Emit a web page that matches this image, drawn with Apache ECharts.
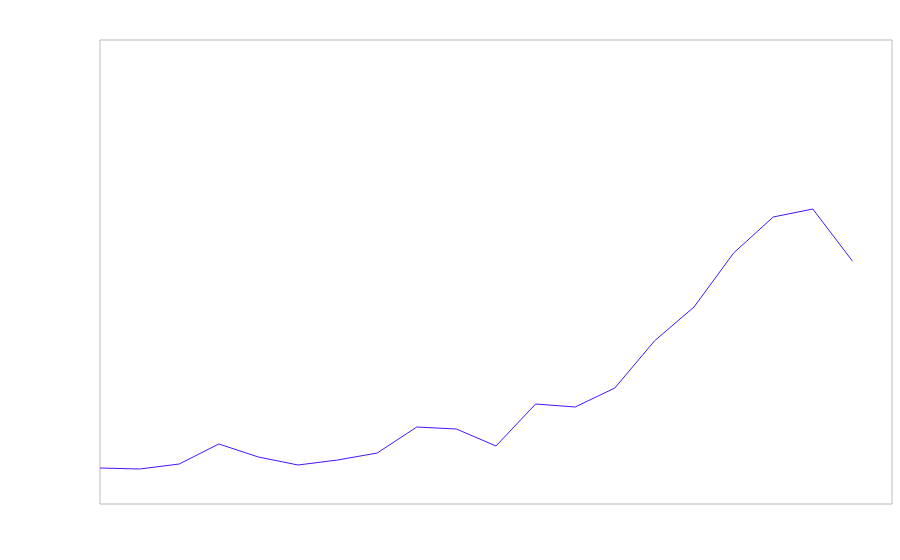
<!DOCTYPE html>
<html>
<head>
<meta charset="utf-8">
<script src="https://cdn.jsdelivr.net/npm/echarts@6/dist/echarts.min.js"></script>
<style>
  html, body { margin: 0; padding: 0; background: #fff; }
  #chart { width: 900px; height: 560px; }
</style>
</head>
<body>
<div id="chart"></div>
<script>
// categories (21 slots, the last has no value)
var categories = ['1', '2', '3', '4', '5', '6', '7', '8', '9', '10', '11',
  '12', '13', '14', '15', '16', '17', '18', '19', '20', '21'];
var values = [36, 35, 40, 60, 47, 39, 44, 51, 77, 75, 58,
  100, 97, 116, 163, 197, 251, 287, 295, 243];

var myChart = echarts.init(document.getElementById('chart'));

var option = {
  animation: false,
  grid: {
    left: 100,
    right: 8,
    top: 40,
    bottom: 56,
    show: true,
    borderColor: '#bbbbbb',
    borderWidth: 1,
    backgroundColor: '#fff'
  },
  xAxis: {
    type: 'category',
    data: categories,
    boundaryGap: false,
    axisLine: { show: false },
    axisTick: { show: false },
    axisLabel: { show: false },
    splitLine: { show: false }
  },
  yAxis: {
    type: 'value',
    min: 0,
    max: 464,
    axisLine: { show: false },
    axisTick: { show: false },
    axisLabel: { show: false },
    splitLine: { show: false }
  },
  series: [
    {
      type: 'line',
      data: values,
      showSymbol: false,
      lineStyle: { color: '#4a14ff', width: 1 },
      itemStyle: { color: '#4a14ff' }
    }
  ]
};

myChart.setOption(option);
</script>
</body>
</html>
